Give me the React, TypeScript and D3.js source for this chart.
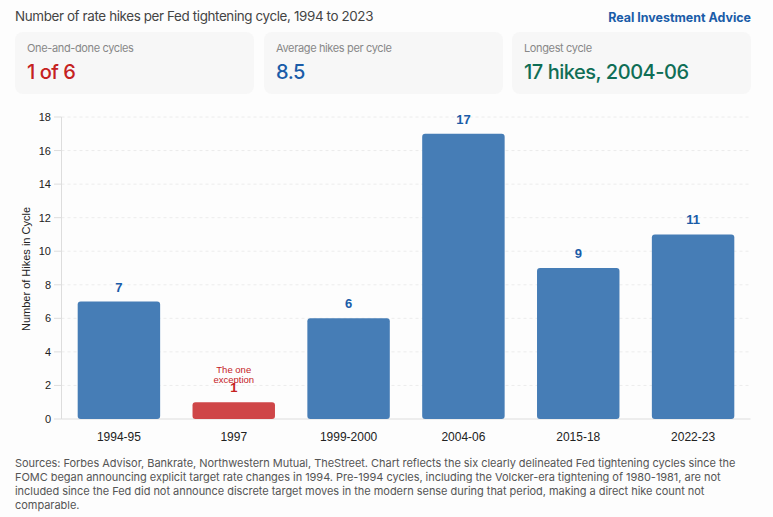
import React from "react";
import * as d3 from "d3";

const categories = ["1994-95", "1997", "1999-2000", "2004-06", "2015-18", "2022-23"];
const hikes = [7, 1, 6, 17, 9, 11];
const yTicks = [0, 2, 4, 6, 8, 10, 12, 14, 16, 18];
const highlighted = ["1997"];
const cardLabels = ["One-and-done cycles", "Average hikes per cycle", "Longest cycle"];
const cardValues = ["1 of 6", "8.5", "17 hikes, 2004-06"];
const cardColors = ["#c5221f", "#1a5ca8", "#0f6e56"];
const cardX = [15, 264, 512];
const sourceLines = [
  "Sources: Forbes Advisor, Bankrate, Northwestern Mutual, TheStreet. Chart reflects the six clearly delineated Fed tightening cycles since the",
  "FOMC began announcing explicit target rate changes in 1994. Pre-1994 cycles, including the Volcker-era tightening of 1980-1981, are not",
  "included since the Fed did not announce discrete target moves in the modern sense during that period, making a direct hike count not",
  "comparable.",
];

const W = 773, H = 517;
const UI = "Inter, 'Noto Sans', sans-serif";
const AX = "'Liberation Sans', Arial, sans-serif";

export default function App() {
  const x = d3.scaleBand<string>().domain(categories).range([61.5, 750.5]).paddingInner(0.282).paddingOuter(0.141);
  const y = d3.scaleLinear().domain([0, 18]).range([419, 117]);
  const x0 = 61.5, x1 = 750.5;
  return (
    <svg width={W} height={H} viewBox={`0 0 ${W} ${H}`} style={{ position: "absolute", left: 0, top: 0, background: "#fdfdfd" }}>
      <text x={15} y={21} fontFamily={UI} fontSize={13.4} letterSpacing={-0.37} fill="#444">Number of rate hikes per Fed tightening cycle, 1994 to 2023</text>
      <text x={751} y={22} textAnchor="end" fontFamily={UI} fontSize={12.45} fontWeight={700} fill="#1a5ca8">Real Investment Advice</text>

      {cardLabels.map((l, i) => (
        <g key={l}>
          <rect x={cardX[i]} y={32} width={239} height={62} rx={8} fill="#f7f7f7" />
          <text x={cardX[i] + 12} y={52} fontFamily={UI} fontSize={11} letterSpacing={-0.36} fill="#888">{l}</text>
          <text x={cardX[i] + 12} y={79} fontFamily={UI} fontSize={20} fontWeight={500} letterSpacing={-0.47} fill={cardColors[i]}>{cardValues[i]}</text>
        </g>
      ))}

      {yTicks.map((t) => (
        <g key={t}>
          {t > 0 && <line x1={x0} x2={x1} y1={y(t)} y2={y(t)} stroke="#ececec" strokeWidth={1} strokeDasharray="3 3" />}
          <line x1={54} x2={x0} y1={y(t)} y2={y(t)} stroke="#dddddd" strokeWidth={1} />
          <text x={51} y={y(t) + 4} textAnchor="end" fontFamily={AX} fontSize={11} fill="#222">{t}</text>
        </g>
      ))}
      <line x1={x0} x2={x0} y1={y(18)} y2={y(0)} stroke="#dddddd" />
      <line x1={x0} x2={x1} y1={y(0)} y2={y(0)} stroke="#dddddd" />

      <text transform={`translate(29.5,269) rotate(-90)`} textAnchor="middle" fontFamily={AX} fontSize={11} fill="#222">Number of Hikes in Cycle</text>

      {categories.map((c, i) => {
        const bx = x(c)!;
        const bw = x.bandwidth();
        const top = y(hikes[i]);
        const hot = highlighted.includes(c);
        const color = hot ? "#cf4648" : "#467db6";
        const r = 3;
        const path = `M${bx},${top + r}a${r},${r} 0 0 1 ${r},${-r}h${bw - 2 * r}a${r},${r} 0 0 1 ${r},${r}v${y(0) - top - 2 * r}a${r},${r} 0 0 1 ${-r},${r}h${-(bw - 2 * r)}a${r},${r} 0 0 1 ${-r},${-r}z`;
        return (
          <g key={c}>
            <path d={path} fill={color} />
            <text x={bx + bw / 2} y={top - 10} textAnchor="middle" fontFamily={AX} fontSize={13} fontWeight={700} fill={hot ? "#c5221f" : "#1a5ca8"}>{hikes[i]}</text>
            {hot && (
              <text textAnchor="middle" fontFamily={AX} fontSize={9.5} fill="#c5221f">
                <tspan x={bx + bw / 2} y={373}>The one</tspan>
                <tspan x={bx + bw / 2} y={383}>exception</tspan>
              </text>
            )}
            <text x={bx + bw / 2} y={441} textAnchor="middle" fontFamily={AX} fontSize={12} fill="#222">{c}</text>
          </g>
        );
      })}

      {sourceLines.map((l, i) => (
        <text key={i} x={15} y={467 + i * 14} fontFamily={UI} fontSize={11} letterSpacing={-0.04} fill="#555">{l}</text>
      ))}
    </svg>
  );
}
